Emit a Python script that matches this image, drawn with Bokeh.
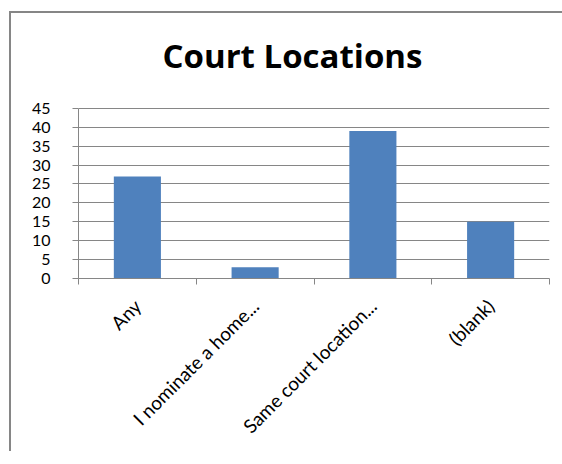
import math
from bokeh.plotting import figure
from bokeh.models import FixedTicker, Range1d, ColumnDataSource, Label
from bokeh.embed import file_html
from bokeh.resources import INLINE

categories = ["Any", "I nominate a home...", "Same court location...", "(blank)"]
values = [27, 3, 39, 15]
y_ticks = [0, 5, 10, 15, 20, 25, 30, 35, 40, 45]
title_text = "Court Locations"

FONT = "Lato"
GRAY = "#868686"

xpos = [i + 0.5 for i in range(len(categories))]
src = ColumnDataSource(dict(x=xpos, top=values, cat=categories))

# frame extends above the value axis to host the chart title
p = figure(width=560, height=440, output_backend="svg", toolbar_location=None,
           x_range=Range1d(0, len(categories)), y_range=Range1d(0, 70.1),
           min_border_left=67, min_border_right=22, min_border_top=0, min_border_bottom=175)
p.styles = {"margin-left": "11px", "margin-top": "13px",
            "box-shadow": "-2px -2px 0px 0px #868686"}
p.background_fill_color = "white"
p.border_fill_color = "white"
p.outline_line_color = None

p.vbar(x="x", top="top", width=0.4, bottom=0, source=src, fill_color="#4F81BD", line_color=None)

p.add_layout(Label(x=1.817, y=59.0, text=title_text, text_font="Open Sans",
                   text_font_style="bold", text_font_size="33px", text_align="center",
                   text_baseline="alphabetic", text_color="black"))

# y axis
p.yaxis.ticker = FixedTicker(ticks=y_ticks)
p.yaxis.bounds = (0, 45)
p.yaxis.axis_line_color = GRAY
p.yaxis.major_tick_line_color = GRAY
p.yaxis.major_tick_out = 6
p.yaxis.major_tick_in = 0
p.yaxis.minor_tick_line_color = None
p.yaxis.major_label_standoff = 22
p.yaxis.major_label_text_font = FONT
p.yaxis.major_label_text_font_size = "16px"
p.yaxis.major_label_text_color = "black"

# x axis
p.xaxis.ticker = FixedTicker(ticks=xpos, minor_ticks=list(range(len(categories) + 1)))
p.xaxis.major_label_overrides = {x: c for x, c in zip(xpos, categories)}
p.xaxis.major_tick_line_color = None
p.xaxis.minor_tick_line_color = GRAY
p.xaxis.minor_tick_out = 6
p.xaxis.minor_tick_in = 0
p.xaxis.axis_line_color = GRAY
p.xaxis.major_label_orientation = math.pi / 4
p.xaxis.major_label_standoff = 18
p.xaxis.major_label_text_font = FONT
p.xaxis.major_label_text_font_size = "19px"
p.xaxis.major_label_text_color = "black"

p.xgrid.visible = False
p.ygrid.ticker = FixedTicker(ticks=y_ticks)
p.ygrid.grid_line_color = GRAY
p.ygrid.grid_line_width = 1

open("out.html", "w").write(file_html(p, INLINE))
